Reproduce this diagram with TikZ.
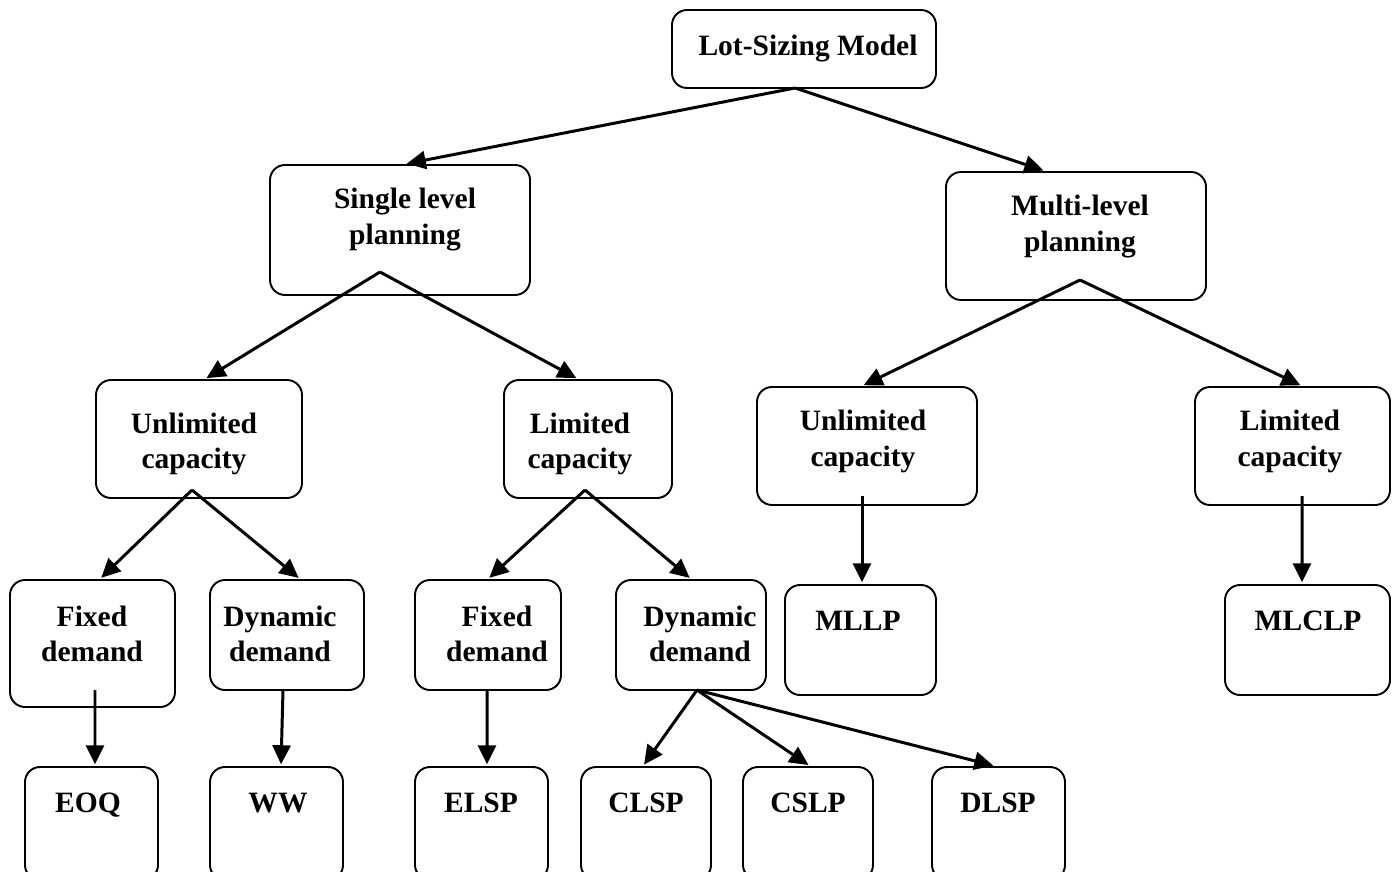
\documentclass[tikz,border=0pt]{standalone}
\usepackage{fontspec}
\setmainfont{Liberation Serif}
\usetikzlibrary{arrows.meta}

\begin{document}
\begin{tikzpicture}[
  box/.style={draw=black, line width=1.1pt, rounded corners=0.3cm, inner sep=0pt},
  txt/.style={font=\fontsize{16.8}{20}\selectfont\bfseries, align=center, inner sep=0pt},
  arr/.style={line width=1.7pt, draw=black, -{Triangle[length=0.38cm,width=0.36cm]}, shorten >=1pt}
]

\useasboundingbox (0,0) rectangle (27.92,-17.44);

% ------------------------------------------------ boxes
\node[box, minimum width=5.28cm, minimum height=1.56cm] (lot)    at (16.08,-0.98) {};
\node[box, minimum width=5.20cm, minimum height=2.60cm] (single) at (8.00,-4.60)  {};
\node[box, minimum width=5.20cm, minimum height=2.56cm] (multi)  at (21.52,-4.72) {};

\node[box, minimum width=4.12cm, minimum height=2.36cm] (unlimL) at (3.98,-8.78)  {};
\node[box, minimum width=3.36cm, minimum height=2.36cm] (limM)   at (11.76,-8.78) {};
\node[box, minimum width=4.40cm, minimum height=2.36cm] (unlimR) at (17.34,-8.92) {};
\node[box, minimum width=3.90cm, minimum height=2.36cm] (limR)   at (25.85,-8.92) {};

\node[box, minimum width=3.30cm, minimum height=2.54cm] (fixL)  at (1.85,-12.87)  {};
\node[box, minimum width=3.08cm, minimum height=2.20cm] (dynL)  at (5.74,-12.70)  {};
\node[box, minimum width=2.92cm, minimum height=2.20cm] (fixM)  at (9.76,-12.70)  {};
\node[box, minimum width=3.00cm, minimum height=2.20cm] (dynM)  at (13.82,-12.70) {};
\node[box, minimum width=3.02cm, minimum height=2.20cm] (mllp)  at (17.21,-12.80) {};
\node[box, minimum width=3.30cm, minimum height=2.20cm] (mlclp) at (26.15,-12.80) {};

\node[box, minimum width=2.66cm, minimum height=2.26cm] (eoq)  at (1.83,-16.47)  {};
\node[box, minimum width=2.66cm, minimum height=2.26cm] (ww)   at (5.53,-16.47)  {};
\node[box, minimum width=2.66cm, minimum height=2.26cm] (elsp) at (9.63,-16.47)  {};
\node[box, minimum width=2.60cm, minimum height=2.26cm] (clsp) at (12.92,-16.47) {};
\node[box, minimum width=2.60cm, minimum height=2.26cm] (cslp) at (16.16,-16.47) {};
\node[box, minimum width=2.66cm, minimum height=2.26cm] (dlsp) at (19.97,-16.47) {};

% ------------------------------------------------ texts
\node[txt] (lottxt)    at (16.16,-0.98)  {Lot-Sizing Model};
\node[txt] (singletxt) at (8.10,-4.39)   {Single level\\planning};
\node[txt] (multitxt)  at (21.60,-4.53)  {Multi-level\\planning};
\node[txt] (unlimLtxt) at (3.88,-8.88)   {Unlimited\\capacity};
\node[txt] (limMtxt)   at (11.60,-8.88)  {Limited\\capacity};
\node[txt] (unlimRtxt) at (17.26,-8.83)  {Unlimited\\capacity};
\node[txt] (limRtxt)   at (25.80,-8.83)  {Limited\\capacity};
\node[txt] (fixLtxt)   at (1.84,-12.67)  {Fixed\\demand};
\node[txt] (dynLtxt)   at (5.60,-12.67)  {Dynamic\\demand};
\node[txt] (fixMtxt)   at (9.94,-12.67)  {Fixed\\demand};
\node[txt] (dynMtxt)   at (14.00,-12.67) {Dynamic\\demand};
\node[txt] (mllptxt)   at (17.16,-12.42) {MLLP};
\node[txt] (mlclptxt)  at (26.16,-12.42) {MLCLP};
\node[txt] (eoqtxt)    at (1.76,-16.10)  {EOQ};
\node[txt] (wwtxt)     at (5.56,-16.06)  {WW};
\node[txt] (elsptxt)   at (9.62,-16.06)  {ELSP};
\node[txt] (clsptxt)   at (12.92,-16.06) {CLSP};
\node[txt] (cslptxt)   at (16.16,-16.06) {CSLP};
\node[txt] (dlsptxt)   at (19.96,-16.06) {DLSP};

% ------------------------------------------------ fork points
\coordinate (lotfork)    at (15.90,-1.76);
\coordinate (singlefork) at (7.60,-5.44);
\coordinate (multifork)  at (21.60,-5.60);
\coordinate (unlimLfork) at (3.84,-9.80);
\coordinate (limMfork)   at (11.70,-9.80);
\coordinate (unlimRfork) at (17.24,-9.92);
\coordinate (limRfork)   at (26.04,-9.92);
\coordinate (fixLfork)   at (1.90,-13.80);
\coordinate (dynLfork)   at (5.66,-13.80);
\coordinate (fixMfork)   at (9.74,-13.80);
\coordinate (dynMfork)   at (13.94,-13.80);

% ------------------------------------------------ arrows
\draw[arr] (lotfork) -- ([xshift=0.10cm]single.north);
\draw[arr] (lotfork) -- ([xshift=-0.62cm]multi.north);

\draw[arr] (singlefork) -- ([xshift=0.12cm]unlimL.north);
\draw[arr] (singlefork) -- ([xshift=-0.20cm]limM.north);
\draw[arr] (multifork)  -- ([xshift=-0.10cm]unlimR.north);
\draw[arr] (multifork)  -- ([xshift=0.19cm]limR.north);

\draw[arr] (unlimLfork) -- ([xshift=0.15cm]fixL.north);
\draw[arr] (unlimLfork) -- ([xshift=0.26cm]dynL.north);
\draw[arr] (limMfork)   -- (fixM.north);
\draw[arr] (limMfork)   -- (dynM.north);
\draw[arr] (unlimRfork) -- ([xshift=0.03cm]mllp.north);
\draw[arr] (limRfork)   -- ([xshift=-0.11cm]mlclp.north);

\draw[arr] (fixLfork) -- ([xshift=0.07cm]eoq.north);
\draw[arr] (dynLfork) -- ([xshift=0.09cm]ww.north);
\draw[arr] (fixMfork) -- ([xshift=0.11cm]elsp.north);
\draw[arr] (dynMfork) -- ([xshift=-0.06cm]clsp.north);
\draw[arr] (dynMfork) -- ([xshift=0.04cm]cslp.north);
\draw[arr] (dynMfork) -- ([xshift=-0.07cm]dlsp.north);

\end{tikzpicture}
\end{document}
